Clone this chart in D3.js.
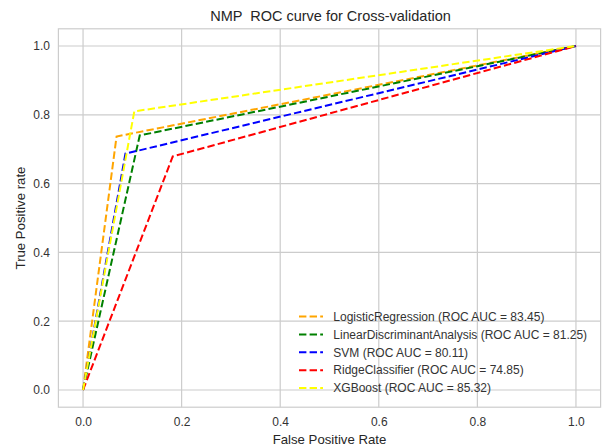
<!DOCTYPE html>
<head>
  <meta charset="utf-8">
  <style>
    body { margin: 0; background: #fff; overflow: hidden; }
    svg { display: block; }
    text { font-family: 'Liberation Sans', Arial, sans-serif; }
    .axis text { fill: #333; font-size: 12px; }
  </style>
</head>
<body>
  <script src="https://cdn.jsdelivr.net/npm/d3@7"></script>
  <script>
    // ROC points: (0,0) -> (fpr, tpr) -> (1,1)
    const models = ["LogisticRegression", "LinearDiscriminantAnalysis", "SVM", "RidgeClassifier", "XGBoost"];
    const aucs = ["83.45", "81.25", "80.11", "74.85", "85.32"];
    const fprs = [0.068, 0.115, 0.086, 0.182, 0.104];
    const tprs = [0.737, 0.740, 0.687, 0.679, 0.810];
    const colors = ["orange", "green", "blue", "red", "yellow"];
    const ticks = [0, 0.2, 0.4, 0.6, 0.8, 1.0];

    const width = 608, height = 447;
    const margin = {top: 28.8, right: 7.4, bottom: 39.8, left: 58.4};
    const innerWidth = width - margin.left - margin.right;
    const innerHeight = height - margin.top - margin.bottom;

    const svg = d3.select("body").append("svg")
      .attr("width", width)
      .attr("height", height);

    const g = svg.append("g")
      .attr("transform", "translate(" + margin.left + "," + margin.top + ")");

    const x = d3.scaleLinear().domain([-0.05, 1.05]).range([0, innerWidth]);
    const y = d3.scaleLinear().domain([-0.05, 1.05]).range([innerHeight, 0]);

    // grid
    g.append("g").selectAll("line").data(ticks).enter().append("line")
      .attr("x1", d => x(d)).attr("x2", d => x(d))
      .attr("y1", 0).attr("y2", innerHeight)
      .attr("stroke", "#cccccc").attr("stroke-width", 1.2);
    g.append("g").selectAll("line").data(ticks).enter().append("line")
      .attr("y1", d => y(d)).attr("y2", d => y(d))
      .attr("x1", 0).attr("x2", innerWidth)
      .attr("stroke", "#cccccc").attr("stroke-width", 1.2);

    // axes (labels only, matplotlib whitegrid has no tick marks)
    const xAxis = g.append("g")
      .attr("class", "axis")
      .attr("transform", "translate(0," + innerHeight + ")")
      .call(d3.axisBottom(x).tickValues(ticks).tickFormat(d3.format(".1f")).tickSize(0).tickPadding(10));
    const yAxis = g.append("g")
      .attr("class", "axis")
      .call(d3.axisLeft(y).tickValues(ticks).tickFormat(d3.format(".1f")).tickSize(0).tickPadding(8.5));
    [xAxis, yAxis].forEach(a => {
      a.select(".domain").remove();
      a.selectAll(".tick line").remove();
    });

    // curves
    const line = d3.line().x(d => x(d[0])).y(d => y(d[1]));
    models.forEach((m, i) => {
      g.append("path")
        .datum([[0, 0], [fprs[i], tprs[i]], [1, 1]])
        .attr("d", line)
        .attr("fill", "none")
        .attr("stroke", colors[i])
        .attr("stroke-width", 2)
        .attr("stroke-dasharray", "7.4,3.2");
    });

    // frame
    g.append("rect")
      .attr("width", innerWidth).attr("height", innerHeight)
      .attr("fill", "none").attr("stroke", "#cccccc").attr("stroke-width", 1.2);

    // legend
    const legend = g.append("g").attr("transform", "translate(" + (299 - margin.left) + "," + (316.5 - margin.top) + ")");
    models.forEach((m, i) => {
      const row = legend.append("g").attr("transform", "translate(0," + (i * 17.9) + ")");
      row.append("line")
        .attr("x1", 0).attr("x2", 24)
        .attr("stroke", colors[i]).attr("stroke-width", 2)
        .attr("stroke-dasharray", "7.4,3.2");
      row.append("text")
        .attr("x", 34.3).attr("dy", "0.35em")
        .attr("fill", "#333").style("font-size", "12px")
        .text(m + " (ROC AUC = " + aucs[i] + ")");
    });

    // labels
    svg.append("text")
      .attr("x", margin.left + innerWidth / 2 + 1).attr("y", 21)
      .attr("text-anchor", "middle")
      .attr("fill", "#262626").style("font-size", "14.5px")
      .style("white-space", "pre")
      .text("NMP  ROC curve for Cross-validation");
    svg.append("text")
      .attr("x", margin.left + innerWidth / 2).attr("y", 444)
      .attr("text-anchor", "middle")
      .attr("fill", "#262626").style("font-size", "13.2px")
      .text("False Positive Rate");
    svg.append("text")
      .attr("transform", "translate(20.7," + (margin.top + innerHeight / 2) + ") rotate(-90)")
      .attr("dy", "0.35em")
      .attr("text-anchor", "middle")
      .attr("fill", "#262626").style("font-size", "13.2px")
      .text("True Positive rate");
  </script>
</body>
